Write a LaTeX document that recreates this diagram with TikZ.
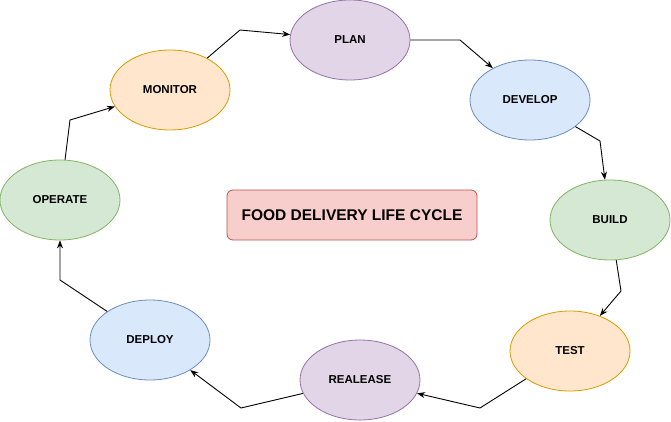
\documentclass[tikz,border=0pt]{standalone}
\usepackage{fontspec}
\setmainfont{Liberation Sans}
\usepackage{tikz}
\usepackage{xcolor}
\usetikzlibrary{shapes.geometric, arrows.meta, positioning, calc}

\definecolor{orangefill}{HTML}{FFE6CC}
\definecolor{orangeline}{HTML}{D79B00}
\definecolor{purplefill}{HTML}{E1D5E7}
\definecolor{purpleline}{HTML}{9673A6}
\definecolor{bluefill}{HTML}{DAE8FC}
\definecolor{blueline}{HTML}{6C8EBF}
\definecolor{greenfill}{HTML}{D5E8D4}
\definecolor{greenline}{HTML}{82B366}
\definecolor{redfill}{HTML}{F8CECC}
\definecolor{redline}{HTML}{B85450}

\tikzset{
  phase/.style={ellipse, minimum width=120pt, minimum height=80pt, inner sep=0pt,
    line width=0.8pt, font=\fontsize{11.5}{13}\selectfont\bfseries},
  flow/.style={line width=0.9pt, -{Stealth[length=8pt,width=6pt]}}
}

\begin{document}
\begin{tikzpicture}[x=1pt, y=1pt]
\useasboundingbox (0,0) rectangle (671,421);

% phases of the cycle
\foreach \n/\x/\y/\txt/\col in {monitor/170/331/MONITOR/orange, plan/350/381/PLAN/purple,
    dev/530/321/DEVELOP/blue, build/610/201/BUILD/green, test/570/70/TEST/orange,
    rel/360/41/REALEASE/purple, deploy/150/81/DEPLOY/blue, operate/60/221/OPERATE/green} {
  \node[phase, fill=\col fill, draw=\col line] (\n) at (\x,\y) {\txt};
}

% title
\node[draw=redline, fill=redfill, rounded corners=6pt, line width=0.8pt,
  minimum width=250pt, minimum height=50pt,
  font=\fontsize{15.5}{17}\selectfont\bfseries] (title) at (352,206) {FOOD DELIVERY LIFE CYCLE};

% connectors
\foreach \a/\bx/\by/\b in {monitor/240/391/plan, plan/460/381/dev, dev/600/280/build,
    build/621/130/test, test/480/13/rel, rel/241/13/deploy, deploy/60/141/operate,
    operate/70/301/monitor} {
  \draw[flow] (\a) -- (\bx,\by) -- (\b);
}
\end{tikzpicture}
\end{document}
